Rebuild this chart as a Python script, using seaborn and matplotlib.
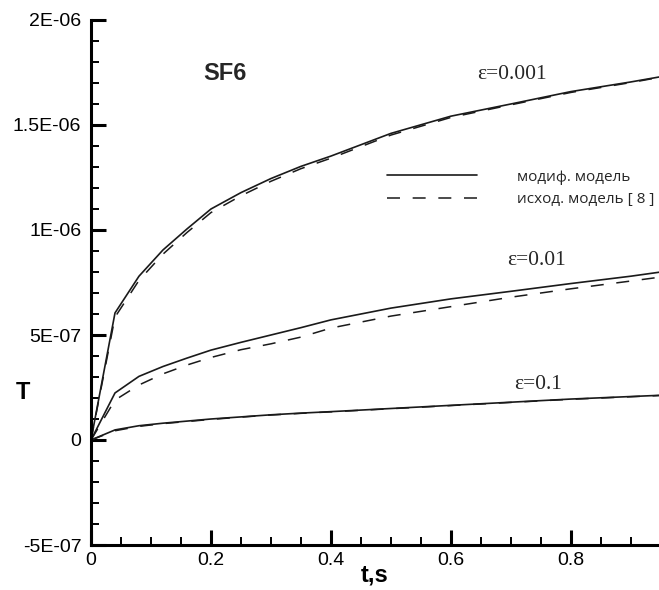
import matplotlib
matplotlib.use("Agg")
import matplotlib.pyplot as plt
from matplotlib.lines import Line2D
from matplotlib.ticker import MultipleLocator, FixedLocator, FixedFormatter
import seaborn as sns
import pandas as pd

# ---- data ----
t = [0, 0.04, 0.08, 0.12, 0.16, 0.2, 0.25, 0.3, 0.35, 0.4, 0.5, 0.6, 0.7, 0.8, 0.9, 0.95]

mod_0001 = [0, 0.605, 0.78, 0.905, 1.005, 1.10, 1.178, 1.245, 1.303, 1.352, 1.46, 1.542, 1.60, 1.659, 1.705, 1.73]
orig_0001 = [0, 0.585, 0.76, 0.885, 0.988, 1.083, 1.163, 1.232, 1.292, 1.342, 1.452, 1.536, 1.596, 1.655, 1.702, 1.728]

mod_001 = [0, 0.224, 0.303, 0.35, 0.39, 0.428, 0.465, 0.50, 0.535, 0.572, 0.628, 0.672, 0.708, 0.745, 0.78, 0.80]
orig_001 = [0, 0.19, 0.262, 0.315, 0.357, 0.393, 0.43, 0.458, 0.49, 0.533, 0.59, 0.635, 0.68, 0.72, 0.757, 0.776]

mod_01 = [0, 0.048, 0.068, 0.08, 0.09, 0.10, 0.11, 0.12, 0.128, 0.135, 0.15, 0.165, 0.18, 0.195, 0.207, 0.213]
orig_01 = [0, 0.044, 0.065, 0.078, 0.088, 0.098, 0.109, 0.119, 0.127, 0.134, 0.149, 0.164, 0.179, 0.194, 0.206, 0.212]

scale = 1e-6

y_ticks = [-5e-7, 0, 5e-7, 1e-6, 1.5e-6, 2e-6]
y_tick_labels = ["-5E-07", "0", "5E-07", "1E-06", "1.5E-06", "2E-06"]
x_ticks = [0, 0.2, 0.4, 0.6, 0.8]
x_tick_labels = ["0", "0.2", "0.4", "0.6", "0.8"]

legend_labels = ["модиф. модель", "исход. модель [ 8 ]"]
eps_labels = ["ε=0.001", "ε=0.01", "ε=0.1"]

# ---- build long-form table ----
rows = []
for eps, m, o in zip(eps_labels, [mod_0001, mod_001, mod_01], [orig_0001, orig_001, orig_01]):
    for ti, v in zip(t, m):
        rows.append({"t": ti, "T": v * scale, "eps": eps, "model": legend_labels[0]})
    for ti, v in zip(t, o):
        rows.append({"t": ti, "T": v * scale, "eps": eps, "model": legend_labels[1]})
df = pd.DataFrame(rows)

sns.set_theme(style="white")
plt.rcParams["font.family"] = ["Liberation Sans", "DejaVu Sans"]

fig = plt.figure(figsize=(6.59, 5.90), dpi=100)
ax = fig.add_axes([91 / 659, 45 / 590, 1 - 91 / 659, 525 / 590])

line_color = "#1a1a1a"
dash = (0, (8.5, 8.3))
for eps in eps_labels:
    sub = df[(df.eps == eps) & (df.model == legend_labels[0])]
    sns.lineplot(data=sub, x="t", y="T", ax=ax, color=line_color, lw=1.2, legend=False)
    sub = df[(df.eps == eps) & (df.model == legend_labels[1])]
    sns.lineplot(data=sub, x="t", y="T", ax=ax, color=line_color, lw=1.1,
                 legend=False, linestyle=dash)

ax.set_xlim(0, 0.947)
ax.set_ylim(-5e-7, 2e-6)

ax.xaxis.set_major_locator(FixedLocator(x_ticks))
ax.xaxis.set_major_formatter(FixedFormatter(x_tick_labels))
ax.xaxis.set_minor_locator(MultipleLocator(0.05))
ax.yaxis.set_major_locator(FixedLocator(y_ticks))
ax.yaxis.set_major_formatter(FixedFormatter(y_tick_labels))
ax.yaxis.set_minor_locator(MultipleLocator(1e-7))

for s in ["top", "right"]:
    ax.spines[s].set_visible(False)
for s in ["left", "bottom"]:
    ax.spines[s].set_linewidth(2.2)
    ax.spines[s].set_color("black")

ax.tick_params(which="major", direction="in", length=10.5, width=2.2, color="black",
               labelsize=14, labelcolor="black")
ax.tick_params(axis="y", which="major", pad=7)
ax.tick_params(axis="x", which="major", pad=5)
ax.tick_params(which="minor", direction="in", length=5.8, width=1.4, color="black")
ax.tick_params(which="both", bottom=True, left=True, top=False, right=False)

ax.set_xlabel("t,s", fontsize=17, fontweight="bold", color="black")
ax.set_ylabel("T", fontsize=17, fontweight="bold", color="black", rotation=0,
              ha="center", va="center")
ax.xaxis.set_label_coords(0.5, -0.035)
ax.yaxis.set_label_coords(-0.12, 0.29)

ax.text(0.223, 1.745e-6, "SF6", fontsize=17, fontweight="bold", ha="center", va="center")

serif = ["Liberation Serif", "DejaVu Serif"]
ax.text(0.702, 1.74e-6, eps_labels[0], fontsize=15.5, family=serif, ha="center", va="center")
ax.text(0.743, 0.857e-6, eps_labels[1], fontsize=15.5, family=serif, ha="center", va="center")
ax.text(0.745, 0.262e-6, eps_labels[2], fontsize=15.5, family=serif, ha="center", va="center")

handles = [Line2D([], [], color=line_color, lw=1.2),
           Line2D([], [], color=line_color, lw=1.1, linestyle=dash)]
leg = ax.legend(handles, legend_labels, loc="center left", bbox_to_anchor=(0.521, 0.679),
                frameon=False, handlelength=5.9, handletextpad=2.6, labelspacing=0.5,
                prop={"family": ["Open Sans", "DejaVu Sans"], "size": 11}, borderaxespad=0,
                borderpad=0)

fig.savefig("out.png", dpi=100)
